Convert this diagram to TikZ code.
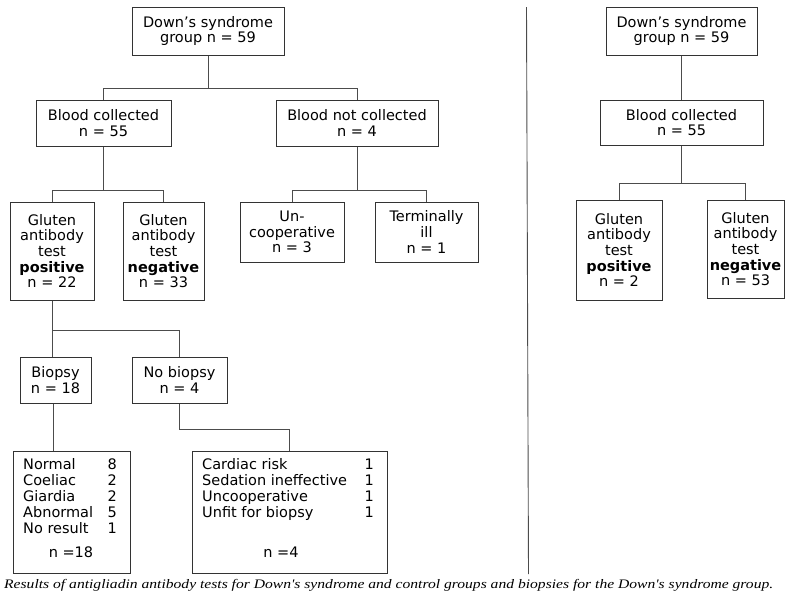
\documentclass[tikz,border=0pt]{standalone}
\usepackage{fontspec}
\usepackage{graphicx}
\setmainfont{DejaVu Sans}
\newfontfamily\capfont{Liberation Serif}
\tikzset{
  box/.style={draw=black!80, line width=1pt, inner sep=0pt, align=center,
    font=\fontsize{14.5}{15.7}\selectfont},
  conn/.style={draw=black!70, line width=0.9pt},
  lbl/.style={inner sep=0pt, font=\fontsize{14.5}{15.7}\selectfont}
}
\begin{document}
\begin{tikzpicture}[x=1pt,y=-1pt]
\useasboundingbox (0,0) rectangle (785,598);
% left tree
\node[box, minimum width=152pt, minimum height=48pt] (top) at (208,31) {Down's syndrome\\group n = 59};
\node[box, minimum width=135pt, minimum height=46pt] (bc) at (103.5,123) {Blood collected\\n = 55};
\node[box, minimum width=162pt, minimum height=46pt] (bnc) at (357,123) {Blood not collected\\n = 4};
\node[box, minimum width=84pt, minimum height=98pt] (gp) at (52,251) {Gluten\\antibody\\test\\\textbf{positive}\\n = 22};
\node[box, minimum width=81pt, minimum height=98pt] (gn) at (163.5,251) {Gluten\\antibody\\test\\\textbf{negative}\\n = 33};
\node[box, minimum width=104pt, minimum height=60pt] (unc) at (292,232) {Un-\\cooperative\\n = 3};
\node[box, minimum width=103pt, minimum height=60pt] (ti) at (426.5,232) {Terminally\\ill\\n = 1};
\node[box, minimum width=71pt, minimum height=46pt] (bio) at (55.5,380) {Biopsy\\n = 18};
\node[box, minimum width=95pt, minimum height=46pt] (nob) at (179.5,380) {No biopsy\\n = 4};
\node[box, minimum width=117pt, minimum height=122pt] (nb) at (71.5,512) {};
\node[box, minimum width=195pt, minimum height=122pt] (card) at (289.5,512) {};
% list contents
\foreach \t/\n [count=\i] in {Normal/8, Coeliac/2, Giardia/2, Abnormal/5, No result/1} {
  \node[lbl, anchor=base west] (nl\i) at (23,453+16*\i) {\t};
  \node[lbl, anchor=base east] (nn\i) at (117,453+16*\i) {\n};
}
\node[lbl, anchor=base] (ntot) at (71,557) {n =18};
\foreach \t [count=\i] in {Cardiac risk, Sedation ineffective, Uncooperative, Unfit for biopsy} {
  \node[lbl, anchor=base west] (cl\i) at (202,453+16*\i) {\t};
  \node[lbl, anchor=base east] (cn\i) at (374,453+16*\i) {1};
}
\node[lbl, anchor=base] (ctot) at (281,557) {n =4};
% connectors left
\coordinate (j1) at (208,88);
\draw[conn] (top.south) -- (j1) -| (bc.north);
\draw[conn] (j1) -| (bnc.north);
\coordinate (j2) at (103.5,190);
\draw[conn] (bc.south) -- (j2) -| (gp.north);
\draw[conn] (j2) -| (gn.north);
\coordinate (j3) at (357,190);
\draw[conn] (bnc.south) -- (j3) -| (unc.north);
\draw[conn] (j3) -| (ti.north);
\coordinate (j4) at (52,330);
\draw[conn] (gp.south) -- (j4) -| (nob.north);
\draw[conn] (j4) -- (j4 |- bio.north);
\coordinate (c5) at (53,451);
\draw[conn] (bio.south -| c5) -- (c5);
\coordinate (j6) at (179.5,429);
\draw[conn] (nob.south) -- (j6) -| (card.north);
% divider
\coordinate (d1) at (526.5,7);
\coordinate (d2) at (528.5,574);
\draw[conn] (d1) -- (d2);
% right tree
\node[box, minimum width=151pt, minimum height=48pt] (top2) at (681.5,31) {Down's syndrome\\group n = 59};
\node[box, minimum width=163pt, minimum height=45pt] (bc2) at (681.5,122.5) {Blood collected\\n = 55};
\node[box, minimum width=86pt, minimum height=100pt] (gp2) at (619,250) {Gluten\\antibody\\test\\\textbf{positive}\\n = 2};
\node[box, minimum width=77pt, minimum height=98pt] (gn2) at (745.5,249) {Gluten\\antibody\\test\\\textbf{negative}\\n = 53};
\draw[conn] (top2.south) -- (bc2.north);
\coordinate (j7) at (681.5,183);
\draw[conn] (bc2.south) -- (j7) -| (gp2.north);
\draw[conn] (j7) -| (gn2.north);
% caption
\node[inner sep=0pt, anchor=base west] (cap) at (4,588) {\resizebox{769pt}{\height}{\capfont\itshape\fontsize{13}{15}\selectfont Results of antigliadin antibody tests for Down's syndrome and control groups and biopsies for the Down's syndrome group.}};
\end{tikzpicture}
\end{document}
